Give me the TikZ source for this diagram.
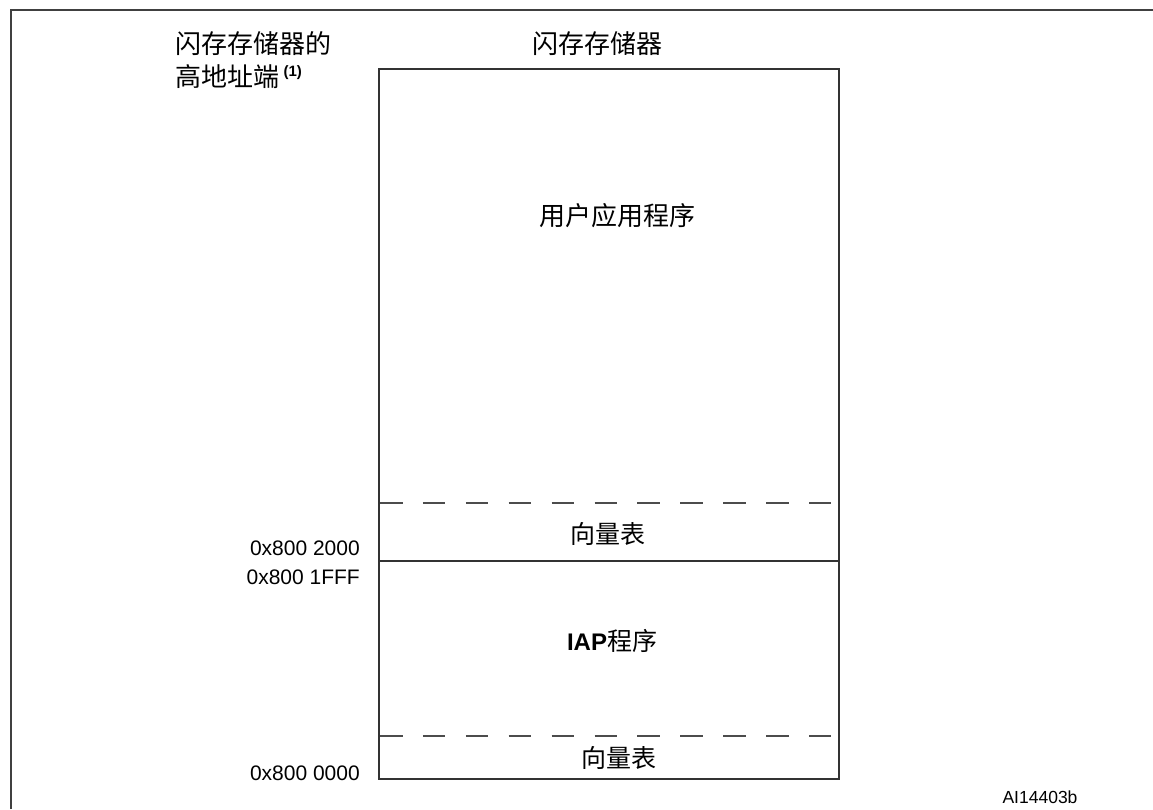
\documentclass[tikz,border=0pt]{standalone}
\usepackage{fontspec}
\setmainfont{Liberation Sans}
\newfontfamily\cjk{Noto Sans CJK SC}
\tikzset{
  region/.style={draw=black!80, line width=1.6pt},
  split/.style={draw=black!70, line width=1.6pt, dash pattern=on 22.5pt off 20.4pt},
  zh/.style={font=\cjk\fontsize{25}{28}\selectfont, inner sep=0pt},
  addr/.style={font=\fontsize{21}{25}\selectfont, anchor=east, inner sep=0pt},
}
\begin{document}
\begin{tikzpicture}[x=1pt,y=-1pt]
\useasboundingbox (0,0) rectangle (1153,809);
% frame, cut off at right and bottom
\draw[line width=2.5pt, black!75] (11,809) -- (11,10) -- (1153,10);
% flash memory
\draw[region] (379,69) rectangle (839,779);
\draw[region] (379,561) -- (839,561);
\draw[split] (380,503) -- (831,503);
\draw[split] (380,736) -- (831,736);
\node[zh, font=\cjk\fontsize{26}{28}\selectfont] (flash) at (597,44) {闪存存储器};
\node[zh, font=\cjk\fontsize{26}{28}\selectfont, anchor=west] (highend) at (175,44) {闪存存储器的};
\node[zh, font=\cjk\fontsize{26}{28}\selectfont, anchor=west] (highend2) at (175,77)
  {高地址端\,\raisebox{0.4em}{\rmfamily\bfseries\fontsize{15}{15}\selectfont (1)}};
\node[zh, font=\cjk\fontsize{26}{28}\selectfont] (userapp) at (617,216) {用户应用程序};
\node[zh] (vectop) at (608,534) {向量表};
\node[zh] (iap) at (612,641) {{\rmfamily\bfseries\fontsize{24}{28}\selectfont IAP}程序};
\node[zh] (vecbot) at (619,758) {向量表};
% addresses
\node[addr] (a2000) at (360,548) {0x800 2000};
\node[addr] (a1fff) at (360,577) {0x800 1FFF};
\node[addr] (a0000) at (360,773) {0x800 0000};
\node[font=\fontsize{17.5}{20}\selectfont, inner sep=0pt] (ref) at (1040,797) {AI14403b};
\end{tikzpicture}
\end{document}
